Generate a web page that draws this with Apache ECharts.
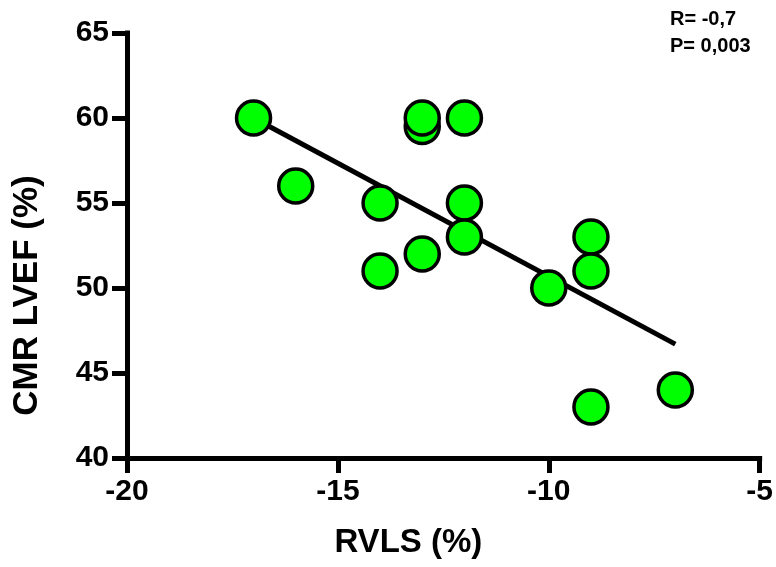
<!DOCTYPE html>
<html>
<head>
<meta charset="utf-8">
<script src="https://cdn.jsdelivr.net/npm/echarts@6/dist/echarts.min.js"></script>
<style>html,body{margin:0;padding:0;background:#fff}#c{width:776px;height:567px}</style>
</head>
<body>
<div id="c"></div>
<script>
const xValues = [-17, -16, -14, -14, -13, -13, -13, -12, -12, -12, -10, -9, -9, -9, -7];
const yValues = [60, 56, 55, 51, 59.5, 60, 52, 60, 55, 53, 50, 53, 51, 43, 44];
const fitX = [-17, -7];
const fitY = [60, 46.7];
const xTicks = [-20, -15, -10, -5];
const yTicks = [40, 45, 50, 55, 60, 65];
const statsText = ['R= -0,7', 'P= 0,003'];

const chart = echarts.init(document.getElementById('c'), null, {renderer: 'canvas'});
const font = '"Liberation Sans", Arial, sans-serif';
const axisCommon = {
  axisLine: {show: true, onZero: false, lineStyle: {color: '#000', width: 5, cap: 'square'}},
  axisTick: {show: true, inside: false, length: 15, lineStyle: {color: '#000', width: 5}},
  splitLine: {show: false},
  nameLocation: 'middle'
};
chart.setOption({
  animation: false,
  backgroundColor: '#fff',
  grid: {left: 127, right: 15, top: 33, bottom: 109, containLabel: false},
  xAxis: Object.assign({}, axisCommon, {
    type: 'value', min: xTicks[0], max: xTicks[xTicks.length - 1], interval: 5,
    name: 'RVLS (%)', nameGap: 68,
    nameTextStyle: {fontFamily: font, fontWeight: 'bold', fontSize: 33, color: '#000', padding: [0, 70, 0, 0]},
    axisLabel: {fontFamily: font, fontWeight: 'bold', fontSize: 30, color: '#000', margin: 19}
  }),
  yAxis: Object.assign({}, axisCommon, {
    type: 'value', min: yTicks[0], max: yTicks[yTicks.length - 1], interval: 5,
    name: 'CMR LVEF (%)', nameGap: 82,
    nameTextStyle: {fontFamily: font, fontWeight: 'bold', fontSize: 35, color: '#000', padding: [0, 100, 0, 0]},
    axisLabel: {fontFamily: font, fontWeight: 'bold', fontSize: 30, color: '#000', margin: 18}
  }),
  graphic: [
    {type: 'text', left: 670, top: 9, style: {text: statsText[0], font: 'bold 20px ' + font, fill: '#000'}},
    {type: 'text', left: 670, top: 36, style: {text: statsText[1], font: 'bold 20px ' + font, fill: '#000'}}
  ],
  series: [
    {
      type: 'line', z: 2,
      data: fitX.map((x, i) => [x, fitY[i]]),
      symbol: 'none',
      lineStyle: {color: '#000', width: 5}
    },
    {
      type: 'scatter', z: 3,
      data: xValues.map((x, i) => [x, yValues[i]]),
      symbol: 'circle', symbolSize: 34,
      itemStyle: {color: '#00ff00', borderColor: '#000', borderWidth: 3.5, opacity: 1}
    }
  ]
});
</script>
</body>
</html>
